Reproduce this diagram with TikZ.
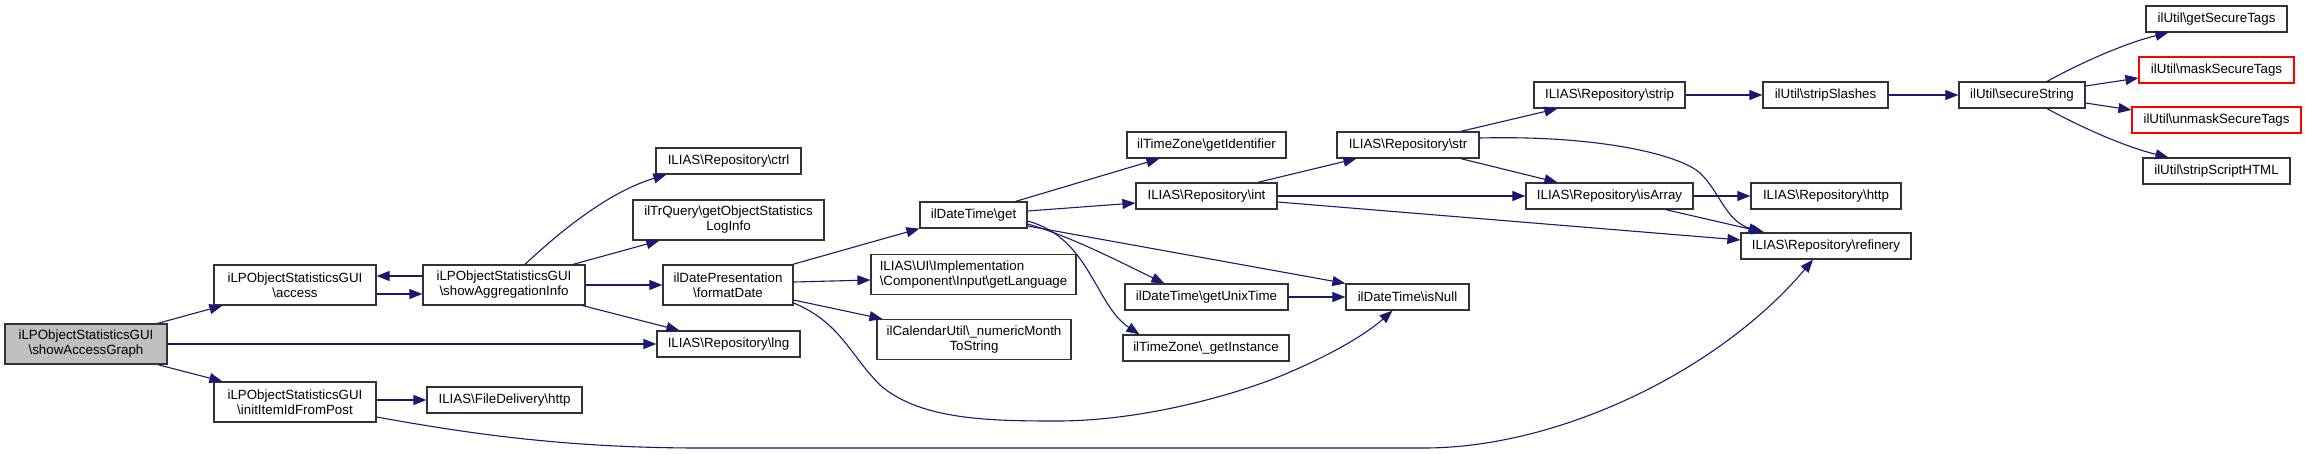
\documentclass[tikz,border=0pt]{standalone}
\usepackage{fontspec}
\setmainfont{Liberation Sans}
\usetikzlibrary{arrows.meta}
\definecolor{edgeblue}{HTML}{191970}
\definecolor{nodeborder}{HTML}{333333}
\definecolor{rootfill}{HTML}{BFBFBF}
\newcommand{\bsl}{\textbackslash}
\tikzset{
  box/.style={draw=nodeborder, line width=1.2pt, fill=white, inner sep=0pt, align=center,
    font=\fontsize{13.33}{15}\selectfont},
  onebox/.style={box, minimum height=26pt},
  twobox/.style={box, minimum height=40pt},
  redbox/.style={onebox, draw=red},
  edge/.style={draw=edgeblue, line width=1.1pt, -{Triangle[length=13pt,width=10pt]}},
}
\begin{document}
\begin{tikzpicture}[x=1pt,y=-1pt]
\useasboundingbox (0,0) rectangle (2305,455);
% nodes
\node[twobox, fill=rootfill, minimum width=162pt] (sag) at (86,344) {iLPObjectStatisticsGUI\\\bsl showAccessGraph};
\node[twobox, minimum width=162pt] (acc) at (295,285) {iLPObjectStatisticsGUI\\\bsl access};
\node[twobox, minimum width=162pt] (init) at (295,402) {iLPObjectStatisticsGUI\\\bsl initItemIdFromPost};
\node[twobox, minimum width=162pt] (agg) at (504,285) {iLPObjectStatisticsGUI\\\bsl showAggregationInfo};
\node[onebox, minimum width=145pt] (ctrl) at (728.5,161) {ILIAS\bsl Repository\bsl ctrl};
\node[twobox, minimum width=191pt] (logi) at (728.5,220) {ilTrQuery\bsl getObjectStatistics\\LogInfo};
\node[twobox, minimum width=130pt] (fmt) at (728,285) {ilDatePresentation\\\bsl formatDate};
\node[onebox, minimum width=143pt] (lng) at (728.5,344) {ILIAS\bsl Repository\bsl lng};
\node[onebox, minimum width=155pt] (fdh) at (504.5,400) {ILIAS\bsl FileDelivery\bsl http};
\node[onebox, minimum width=107pt] (dget) at (973.5,215) {ilDateTime\bsl get};
\node[twobox, minimum width=205pt, align=left] (lang) at (973.5,274.5) {ILIAS\bsl UI\bsl Implementation\\\bsl Component\bsl Input\bsl getLanguage};
\node[twobox, minimum width=194pt] (ncal) at (974,339.5) {ilCalendarUtil\bsl\_numericMonth\\ToString};
\node[onebox, minimum width=159pt] (tzid) at (1206.5,145) {ilTimeZone\bsl getIdentifier};
\node[onebox, minimum width=141pt] (int) at (1206.5,196) {ILIAS\bsl Repository\bsl int};
\node[onebox, minimum width=163pt] (unix) at (1206.5,297) {ilDateTime\bsl getUnixTime};
\node[onebox, minimum width=166pt] (tzinst) at (1206,348) {ilTimeZone\bsl\_getInstance};
\node[onebox, minimum width=142pt] (str) at (1408,145) {ILIAS\bsl Repository\bsl str};
\node[onebox, minimum width=123pt] (isnull) at (1407.5,297) {ilDateTime\bsl isNull};
\node[onebox, minimum width=151pt] (strip) at (1609.5,95) {ILIAS\bsl Repository\bsl strip};
\node[onebox, minimum width=167pt] (isarr) at (1609.5,196) {ILIAS\bsl Repository\bsl isArray};
\node[onebox, minimum width=150pt] (rhttp) at (1826,196) {ILIAS\bsl Repository\bsl http};
\node[onebox, minimum width=170pt] (ref) at (1826,246) {ILIAS\bsl Repository\bsl refinery};
\node[onebox, minimum width=125pt] (sslash) at (1825.5,95) {ilUtil\bsl stripSlashes};
\node[onebox, minimum width=126pt] (sstr) at (2022,95) {ilUtil\bsl secureString};
\node[onebox, minimum width=141pt] (gst) at (2216.5,19) {ilUtil\bsl getSecureTags};
\node[redbox, minimum width=155pt] (mst) at (2216.5,70) {ilUtil\bsl maskSecureTags};
\node[redbox, minimum width=169pt] (umst) at (2216.5,120) {ilUtil\bsl unmaskSecureTags};
\node[onebox, minimum width=147pt] (ssh) at (2216.5,171) {ilUtil\bsl stripScriptHTML};
% edges
\draw[edge] ([xshift=-10pt]sag.north east) -- ([xshift=9pt]acc.south west);
\draw[edge] (sag.east) -- (lng.west);
\draw[edge] ([xshift=-10pt]sag.south east) -- ([xshift=9pt]init.north west);
\draw[edge] ([yshift=-9pt]acc.east) -- ([yshift=-9pt]agg.west);
\draw[edge] ([yshift=9pt]agg.west) -- ([yshift=9pt]acc.east);
\draw[edge] ([xshift=21pt]agg.north) .. controls (570,222) and (615,190) .. ([xshift=11pt]ctrl.south west);
\draw[edge] ([xshift=69pt]agg.north) -- ([xshift=27pt]logi.south west);
\draw[edge] (agg.east) -- (fmt.west);
\draw[edge] ([xshift=-3pt]agg.south east) -- ([xshift=23pt]lng.north west);
\draw[edge] ([yshift=2pt]init.east) -- (fdh.west);
\draw[edge] ([yshift=-15pt]init.east) .. controls (460,432) and (560,448) .. (700,448)
   -- (1424,448) .. controls (1560,448) and (1720,370) .. ([xshift=-13pt]ref.south);
\draw[edge] ([xshift=-1pt]fmt.north east) -- (dget.south west);
\draw[edge] ([yshift=3pt]fmt.east) -- ([yshift=-5.5pt]lang.west);
\draw[edge] ([yshift=-15pt]fmt.east) -- ([xshift=6pt]ncal.north west);
\draw[edge] ([yshift=-18pt]fmt.east) .. controls (840,322) and (850,355) .. (880,385)
   .. controls (920,420) and (990,421) .. (1057,421)
   .. controls (1150,421) and (1250,390) .. (1290,372)
   .. controls (1330,355) and (1365,335) .. ([xshift=-15pt]isnull.south);
\draw[edge] ([xshift=-12pt]dget.north east) -- ([xshift=33pt]tzid.south west);
\draw[edge] ([yshift=4pt]dget.east) -- ([yshift=-7pt]int.west);
\draw[edge] ([yshift=-9pt]dget.east) .. controls (1070,236) and (1120,262) .. ([xshift=40pt]unix.north west);
\draw[edge] ([yshift=-6pt]dget.east) .. controls (1090,238) and (1095,305) .. ([xshift=17pt]tzinst.north west);
\draw[edge] ([yshift=-11pt]dget.east) -- (isnull.north west);
\draw[edge] (unix.east) -- (isnull.west);
\draw[edge] ([xshift=-20pt]int.north east) -- ([xshift=20pt]str.south west);
\draw[edge] (int.east) -- (isarr.west);
\draw[edge] ([yshift=-6pt]int.east) -- ([yshift=6pt]ref.west);
\draw[edge] ([xshift=-19pt]str.north east) -- ([xshift=24pt]strip.south west);
\draw[edge] ([xshift=-19pt]str.south east) -- ([xshift=32pt]isarr.north west);
\draw[edge] ([yshift=7pt]str.east) .. controls (1600,135) and (1680,155) .. (1700,173)
   .. controls (1720,192) and (1725,220) .. ([xshift=21pt]ref.north west);
\draw[edge] (isarr.east) -- (rhttp.west);
\draw[edge] ([xshift=-28pt]isarr.south east) -- ([xshift=24pt]ref.north west);
\draw[edge] (strip.east) -- (sslash.west);
\draw[edge] (sslash.east) -- (sstr.west);
\draw[edge] ([xshift=25pt]sstr.north) .. controls (2090,58) and (2130,42) .. ([xshift=23pt]gst.south west);
\draw[edge] ([yshift=9pt]sstr.east) -- ([yshift=-8pt]mst.west);
\draw[edge] ([yshift=-8pt]sstr.east) -- ([yshift=10pt]umst.west);
\draw[edge] ([xshift=25pt]sstr.south) .. controls (2090,132) and (2130,148) .. ([xshift=26pt]ssh.north west);
\end{tikzpicture}
\end{document}
